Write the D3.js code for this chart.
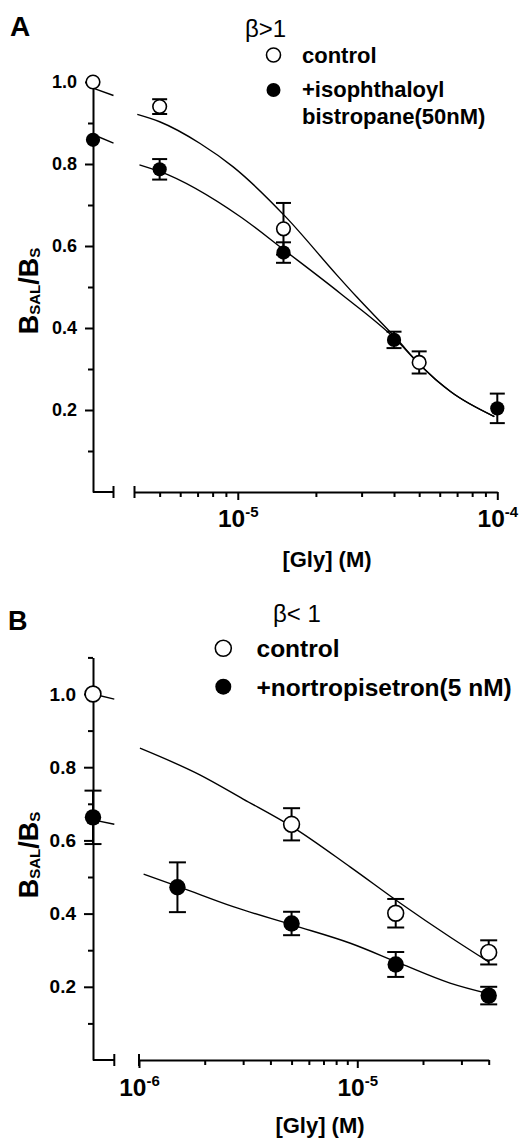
<!DOCTYPE html>
<html>
<head>
<meta charset="utf-8">
<script src="https://cdn.jsdelivr.net/npm/d3@7"></script>
<style>
  body { margin: 0; background: #fff; }
  text { font-family: "Liberation Sans", Arial, Helvetica, sans-serif; }
</style>
</head>
<body>
<div id="chart"></div>
<script>
// ---- panel A (beta > 1) ----
const aCtrlConc = [0, 5e-6, 1.5e-5, 5e-5];
const aCtrlVal  = [1.0, 0.940, 0.642, 0.316];
const aCtrlErr  = [0, 0.018, 0.063, 0.027];
const aDrugConc = [0, 5e-6, 1.5e-5, 4e-5, 1e-4];
const aDrugVal  = [0.859, 0.787, 0.584, 0.371, 0.204];
const aDrugErr  = [0, 0.025, 0.025, 0.020, 0.036];
// fitted lines
const aCtrlFitConc = [4.1e-6, 5e-6, 7.16e-6, 9.6e-6, 1.53e-5, 2.41e-5, 2.87e-5, 4.1e-5, 5.04e-5, 6.6e-5, 9.74e-5];
const aCtrlFitVal  = [0.921, 0.903, 0.850, 0.793, 0.671, 0.529, 0.476, 0.373, 0.310, 0.245, 0.184];
const aDrugFitConc = [4.18e-6, 5e-6, 1.02e-5, 1.51e-5, 2.5e-5, 4.05e-5, 5.04e-5, 6.6e-5, 9.74e-5];
const aDrugFitVal  = [0.798, 0.782, 0.672, 0.590, 0.483, 0.373, 0.310, 0.245, 0.184];
// short pieces on the broken stretch of the x axis
const aCtrlStub = [0.985, 0.967];
const aDrugStub = [0.872, 0.851];
const aYMajor = [0.2, 0.4, 0.6, 0.8, 1.0];
const aYMinor = [0.1, 0.3, 0.5, 0.7, 0.9];
const aXMajor = [1e-5, 1e-4];
const aXMinor = [5e-6, 6e-6, 7e-6, 8e-6, 9e-6, 2e-5, 3e-5, 4e-5, 5e-5, 6e-5, 7e-5, 8e-5, 9e-5];
const aLegend = ["control", "+isophthaloyl", "bistropane(50nM)"];

// ---- panel B (beta < 1) ----
const bCtrlConc = [0, 5e-6, 1.5e-5, 4e-5];
const bCtrlVal  = [1.0, 0.644, 0.401, 0.294];
const bCtrlErr  = [0, 0.044, 0.039, 0.033];
const bDrugConc = [0, 1.5e-6, 5e-6, 1.5e-5, 4e-5];
const bDrugVal  = [0.663, 0.472, 0.373, 0.261, 0.176];
const bDrugErr  = [0.073, 0.068, 0.032, 0.034, 0.024];
const bCtrlFitConc = [1.01e-6, 1.9e-6, 3e-6, 5.1e-6, 9.3e-6, 1.57e-5, 2.66e-5, 4e-5];
const bCtrlFitVal  = [0.852, 0.779, 0.713, 0.635, 0.527, 0.429, 0.336, 0.268];
const bDrugFitConc = [1.05e-6, 1.53e-6, 2.7e-6, 5.1e-6, 9.3e-6, 1.57e-5, 2.66e-5, 4e-5];
const bDrugFitVal  = [0.508, 0.473, 0.419, 0.368, 0.319, 0.264, 0.210, 0.181];
const bCtrlStub = [1.0, 0.986];
const bDrugStub = [0.656, 0.644];
const bYMajor = [0.2, 0.4, 0.6, 0.8, 1.0];
const bYMinor = [0.1, 0.3, 0.5, 0.7, 0.9, 1.1];
const bXMajor = [1e-6, 1e-5];
const bXMinor = [2e-6, 3e-6, 4e-6, 5e-6, 6e-6, 7e-6, 8e-6, 9e-6, 2e-5, 3e-5, 4e-5];
const bLegend = ["control", "+nortropisetron(5 nM)"];

const svg = d3.select("#chart").append("svg")
    .attr("width", 528)
    .attr("height", 1138);

function zip(c, v, e) { return c.map((d, i) => ({c: d, v: v[i], e: e ? e[i] : 0})); }

function panel(p) {
  const g = svg.append("g");

  const y = d3.scaleLinear().domain([0, p.yMax]).range([p.y0, p.y0 - p.yUnit * p.yMax]);
  const x = d3.scaleLog().domain(p.xDomain).range(p.xRange);
  const xb = d3.scaleLinear().domain([0, 1]).range([p.x0, p.breakX]);
  const xPos = c => c === 0 ? p.x0 : x(c);

  // y axis
  const ya = g.append("g")
      .attr("transform", `translate(${p.x0},0)`)
      .call(d3.axisLeft(y).tickValues(p.yMajor).tickFormat(d3.format(".1f"))
        .tickSize(p.majTick).tickSizeOuter(0).tickPadding(8));
  ya.selectAll("text").attr("font-size", p.yTickFont).attr("font-weight", "bold")
      .attr("font-family", null).attr("fill", "#000");
  const ym = g.append("g")
      .attr("transform", `translate(${p.x0},0)`)
      .call(d3.axisLeft(y).tickValues(p.yMinor).tickFormat("").tickSize(5));
  ym.select(".domain").remove();

  // x axis, log part
  const xa = g.append("g")
      .attr("transform", `translate(0,${p.y0})`)
      .call(d3.axisBottom(x).tickValues(p.xMajor).tickSize(8).tickSizeOuter(0));
  xa.selectAll(".tick text").text(null)
      .attr("y", p.xLabDy).attr("dy", null)
      .attr("font-family", null).attr("fill", "#000").attr("font-weight", "bold")
      .each(function(d) {
        const t = d3.select(this);
        t.append("tspan").attr("font-size", 24.5).text("10");
        t.append("tspan").attr("font-size", 15).attr("dy", -10).text(Math.round(Math.log10(d)));
      });
  const xm = g.append("g")
      .attr("transform", `translate(0,${p.y0})`)
      .call(d3.axisBottom(x).tickValues(p.xMinor).tickFormat("").tickSize(5));
  xm.select(".domain").remove();

  // broken stretch on the left
  g.append("line").attr("x1", xb(0)).attr("x2", xb(1)).attr("y1", p.y0).attr("y2", p.y0);
  [xb(1), x.range()[0]].forEach(bx => {
    g.append("line").attr("x1", bx).attr("x2", bx).attr("y1", p.y0 - 6).attr("y2", p.y0 + 6);
  });

  // fitted curves
  const line = d3.line().x(d => x(d.c)).y(d => y(d.v)).curve(d3.curveMonotoneX);
  const stub = d3.line().x((d, i) => xb(i)).y(d => y(d));
  [[p.ctrlFit, p.ctrlStub], [p.drugFit, p.drugStub]].forEach(([fit, st]) => {
    g.append("path").attr("class", "fit").attr("d", line(fit));
    g.append("path").attr("class", "fit").attr("d", stub(st));
  });
  g.selectAll("path.fit").attr("fill", "none").attr("stroke", "#000").attr("stroke-width", 1.4);

  // error bars
  [p.ctrl, p.drug].forEach(pts => {
    pts.filter(d => d.e > 0).forEach(d => {
      const cx = xPos(d.c);
      const lo = y(d.v - d.e), hi = y(d.v + d.e);
      g.append("line").attr("x1", cx).attr("x2", cx).attr("y1", lo).attr("y2", hi);
      [lo, hi].forEach(yy => g.append("line")
        .attr("x1", cx - p.cap).attr("x2", cx + p.cap).attr("y1", yy).attr("y2", yy));
    });
  });
  g.selectAll("path.domain, line").attr("stroke", "#000").attr("stroke-width", 2);

  // markers
  g.selectAll("circle.ctrl").data(p.ctrl).join("circle")
      .attr("class", "ctrl")
      .attr("cx", d => xPos(d.c)).attr("cy", d => y(d.v)).attr("r", p.r)
      .attr("fill", "#fff").attr("stroke", "#000").attr("stroke-width", 1.6);
  g.selectAll("circle.drug").data(p.drug).join("circle")
      .attr("class", "drug")
      .attr("cx", d => xPos(d.c)).attr("cy", d => y(d.v)).attr("r", p.r + 0.3)
      .attr("fill", "#000");

  // titles
  g.append("text").attr("x", p.letterX).attr("y", p.letterY)
      .attr("font-size", p.letterFont).attr("font-weight", "bold").text(p.letter);
  g.append("text").attr("x", p.betaX).attr("y", p.betaY)
      .attr("font-size", 24).text(p.beta);

  g.append("text").attr("x", p.xTitleX).attr("y", p.xTitleY)
      .attr("text-anchor", "middle").attr("font-size", 22).attr("font-weight", "bold")
      .attr("xml:space", "preserve").text("[Gly] (M)");

  const yl = g.append("text")
      .attr("transform", `translate(38,${p.yTitleY}) rotate(-90)`)
      .attr("text-anchor", "middle").attr("font-weight", "bold");
  yl.append("tspan").attr("font-size", 27).text("B");
  yl.append("tspan").attr("font-size", 15).attr("dy", 2).text("SAL");
  yl.append("tspan").attr("font-size", 27).attr("dy", -2).text("/B");
  yl.append("tspan").attr("font-size", 15).attr("dy", 2).text("S");

  // legend
  const lg = p.legend;
  g.append("circle").attr("cx", lg.cx).attr("cy", lg.cy[0]).attr("r", lg.r)
      .attr("fill", "#fff").attr("stroke", "#000").attr("stroke-width", 1.6);
  g.append("circle").attr("cx", lg.cx).attr("cy", lg.cy[1]).attr("r", lg.r)
      .attr("fill", "#000");
  lg.labels.forEach((s, i) => {
    g.append("text").attr("x", lg.tx).attr("y", lg.ty[i])
        .attr("font-size", lg.font).attr("font-weight", "bold").text(s);
  });
}

panel({
  y0: 492, yUnit: 410, yMax: 1.0, x0: 93, breakX: 113.5,
  xDomain: [4e-6, 1e-4], xRange: [134.5, 497.3],
  yMajor: aYMajor, yMinor: aYMinor, xMajor: aXMajor, xMinor: aXMinor,
  majTick: 8, yTickFont: 18, xLabDy: 35,
  ctrl: zip(aCtrlConc, aCtrlVal, aCtrlErr), drug: zip(aDrugConc, aDrugVal, aDrugErr),
  ctrlFit: zip(aCtrlFitConc, aCtrlFitVal), drugFit: zip(aDrugFitConc, aDrugFitVal),
  ctrlStub: aCtrlStub, drugStub: aDrugStub,
  r: 6.8, cap: 7.5,
  letter: "A", letterX: 10, letterY: 36, letterFont: 28,
  beta: "β>1", betaX: 245, betaY: 37,
  xTitleX: 327, xTitleY: 567, yTitleY: 291,
  legend: {cx: 273.5, cy: [55, 90], r: 7, tx: 302, ty: [63, 97, 123.5], font: 22, labels: aLegend}
});

panel({
  y0: 1060, yUnit: 366, yMax: 1.1, x0: 93, breakX: 114.3,
  xDomain: [1e-6, 4e-5], xRange: [139, 488.7],
  yMajor: bYMajor, yMinor: bYMinor, xMajor: bXMajor, xMinor: bXMinor,
  majTick: 9, yTickFont: 19, xLabDy: 36,
  ctrl: zip(bCtrlConc, bCtrlVal, bCtrlErr), drug: zip(bDrugConc, bDrugVal, bDrugErr),
  ctrlFit: zip(bCtrlFitConc, bCtrlFitVal), drugFit: zip(bDrugFitConc, bDrugFitVal),
  ctrlStub: bCtrlStub, drugStub: bDrugStub,
  r: 7.9, cap: 8.5,
  letter: "B", letterX: 8, letterY: 630, letterFont: 27,
  beta: "β< 1", betaX: 273, betaY: 622,
  xTitleX: 320, xTitleY: 1133, yTitleY: 855,
  legend: {cx: 223.3, cy: [648.3, 686.7], r: 8, tx: 256.5, ty: [656.7, 696], font: 24.5, labels: bLegend}
});
</script>
</body>
</html>
